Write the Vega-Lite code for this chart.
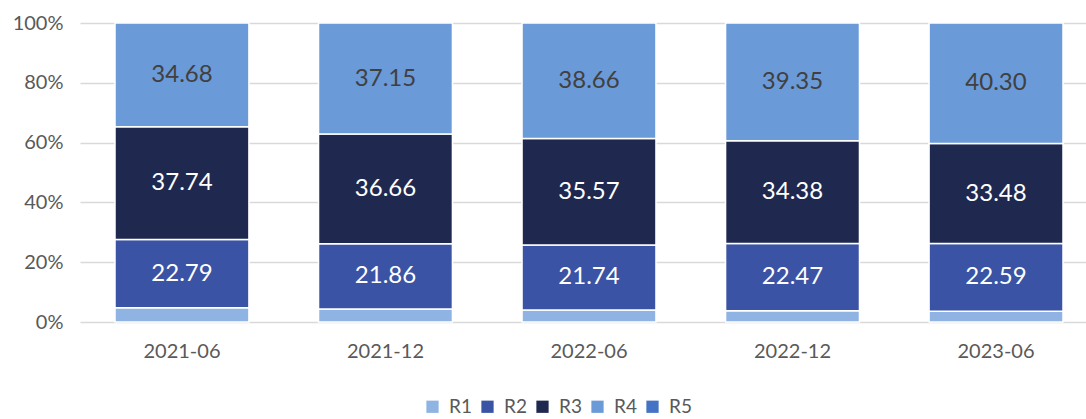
{
  "$schema": "https://vega.github.io/schema/vega-lite/v6.json",
  "width": 1006,
  "height": 299,
  "autosize": {"type": "none"},
  "padding": {"left": 80, "top": 23, "right": 0, "bottom": 97},
  "background": "white",
  "config": {
    "view": {"stroke": null},
    "font": "Lato",
    "axis": {"labelFont": "Lato", "labelFontSize": 20, "labelColor": "#595959"}
  },
  "data": {
    "values": [
      {"date": "2021-06", "series": "R1", "value": 4.79},
      {"date": "2021-06", "series": "R2", "value": 22.79},
      {"date": "2021-06", "series": "R3", "value": 37.74},
      {"date": "2021-06", "series": "R4", "value": 34.68},
      {"date": "2021-12", "series": "R1", "value": 4.33},
      {"date": "2021-12", "series": "R2", "value": 21.86},
      {"date": "2021-12", "series": "R3", "value": 36.66},
      {"date": "2021-12", "series": "R4", "value": 37.15},
      {"date": "2022-06", "series": "R1", "value": 4.03},
      {"date": "2022-06", "series": "R2", "value": 21.74},
      {"date": "2022-06", "series": "R3", "value": 35.57},
      {"date": "2022-06", "series": "R4", "value": 38.66},
      {"date": "2022-12", "series": "R1", "value": 3.80},
      {"date": "2022-12", "series": "R2", "value": 22.47},
      {"date": "2022-12", "series": "R3", "value": 34.38},
      {"date": "2022-12", "series": "R4", "value": 39.35},
      {"date": "2023-06", "series": "R1", "value": 3.63},
      {"date": "2023-06", "series": "R2", "value": 22.59},
      {"date": "2023-06", "series": "R3", "value": 33.48},
      {"date": "2023-06", "series": "R4", "value": 40.30}
    ]
  },
  "transform": [
    {"stack": "value", "groupby": ["date"], "sort": [{"field": "series", "order": "ascending"}], "as": ["v0", "v1"], "offset": "normalize"},
    {"calculate": "(datum.v0 + datum.v1) / 2", "as": "mid"}
  ],
  "encoding": {
    "x": {
      "field": "date", "type": "nominal", "title": null,
      "scale": {"range": [0, 1018], "paddingInner": 0.342, "paddingOuter": 0.172},
      "axis": {"labelAngle": 0, "domain": false, "ticks": false, "labelPadding": 19}
    }
  },
  "layer": [
    {
      "mark": {"type": "bar", "stroke": "white", "strokeWidth": 1.5},
      "encoding": {
        "y": {
          "field": "v0", "type": "quantitative", "title": null,
          "scale": {"domain": [0, 1], "nice": false},
          "axis": {"format": ".0%", "values": [0, 0.2, 0.4, 0.6, 0.8, 1], "domain": false, "ticks": false, "labelPadding": 17, "gridColor": "#d9d9d9", "gridWidth": 1.5}
        },
        "y2": {"field": "v1"},
        "color": {
          "field": "series", "type": "nominal",
          "scale": {"domain": ["R1", "R2", "R3", "R4", "R5"], "range": ["#8FB4E3", "#3A53A4", "#1F294F", "#6B9AD9", "#4472C4"]},
          "legend": {
            "title": null, "orient": "none", "legendX": 343, "legendY": 374,
            "direction": "horizontal", "columns": 5,
            "symbolType": "square", "symbolSize": 150, "symbolStrokeWidth": 0,
            "labelFontSize": 19, "labelColor": "#595959", "labelFont": "Lato",
            "columnPadding": 6, "labelOffset": 7
          }
        }
      }
    },
    {
      "transform": [{"filter": "datum.series != 'R1'"}],
      "mark": {"type": "text", "fontSize": 24, "font": "Lato"},
      "encoding": {
        "y": {"field": "mid", "type": "quantitative"},
        "text": {"field": "value", "type": "quantitative", "format": ".2f"},
        "color": {
          "condition": {"test": "datum.series == 'R4'", "value": "#404040"},
          "value": "white"
        }
      }
    }
  ]
}
